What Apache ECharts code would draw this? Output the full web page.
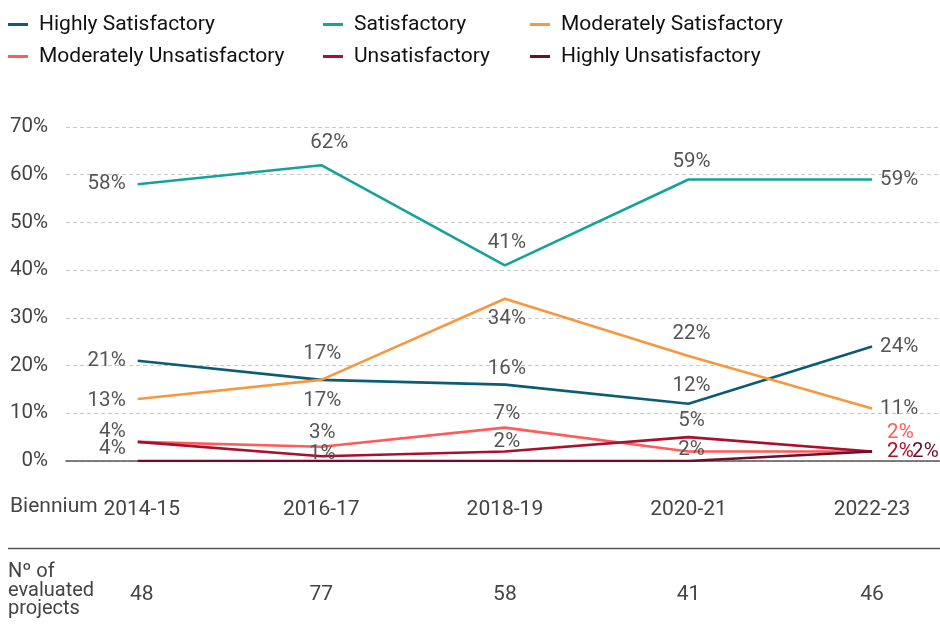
<!DOCTYPE html>
<html>
<head>
<meta charset="utf-8">
<script src="https://cdn.jsdelivr.net/npm/echarts@6/dist/echarts.min.js"></script>
<style>
  html, body { margin: 0; padding: 0; background: #fff; }
  #chart { width: 940px; height: 630px; }
</style>
</head>
<body>
<div id="chart"></div>
<script>
// Project ratings by biennium (share of evaluated projects, %)
const biennia = ['2014-15', '2016-17', '2018-19', '2020-21', '2022-23'];
const projectCounts = [48, 77, 58, 41, 46];

const highlySatisfactory = [21, 17, 16, 12, 24];
const satisfactory = [58, 62, 41, 59, 59];
const moderatelySatisfactory = [13, 17, 34, 22, 11];
const moderatelyUnsatisfactory = [4, 3, 7, 2, 2];
const unsatisfactory = [4, 1, 2, 5, 2];
const highlyUnsatisfactory = [0, 0, 0, 0, 2];

const yTicks = [0, 10, 20, 30, 40, 50, 60, 70];

// Label placement per point: [position, dx, dy]; null hides the label
const placements = {
  hs: [['left', 0, 0], ['in', 1, -26], ['in', 2, -16], ['in', 3, -18], ['right', 0, 0]],
  s: [['left', 0, 0], ['in', 8, -22], ['in', 2, -22], ['in', 3, -18], ['right', 0, 0]],
  ms: [['left', 0, 2], ['in', 1, 21], ['in', 2, 20], ['in', 3, -22], ['right', 0, 0]],
  mu: [['left', 0, -10], ['in', 1, -14], ['in', 2, -14], ['in', 3, -2], ['right', 7, -19]],
  u: [['left', 0, 7], ['in', 1, -2], ['in', 2, -10], ['in', 3, -16], ['right', 7, 0]],
  hu: [null, null, null, null, ['right', 32, 0]]
};

const FONT = 'Roboto, "Noto Sans", sans-serif';
const LABEL_GREY = '#555555';

const seriesDefs = [
  { name: 'Highly Satisfactory', values: highlySatisfactory, color: '#0b5c74', key: 'hs', endColor: LABEL_GREY },
  { name: 'Satisfactory', values: satisfactory, color: '#15a29a', key: 's', endColor: LABEL_GREY },
  { name: 'Moderately Satisfactory', values: moderatelySatisfactory, color: '#f7973f', key: 'ms', endColor: LABEL_GREY },
  { name: 'Moderately Unsatisfactory', values: moderatelyUnsatisfactory, color: '#ff5b5b', key: 'mu', endColor: '#ff5b5b' },
  { name: 'Unsatisfactory', values: unsatisfactory, color: '#a8102e', key: 'u', endColor: '#a8102e' },
  { name: 'Highly Unsatisfactory', values: highlyUnsatisfactory, color: '#6c0f2b', key: 'hu', endColor: '#6c0f2b' }
];

function pointLabel(place, isLast, endColor) {
  if (!place) return { show: false };
  const [pos, dx, dy] = place;
  const lbl = {
    show: true,
    fontFamily: FONT,
    fontSize: 20.5,
    color: isLast ? endColor : LABEL_GREY,
    formatter: (p) => p.value[1] + '%'
  };
  if (pos === 'in') {
    lbl.position = 'inside';
    lbl.offset = [dx, dy];
  } else {
    lbl.position = pos;
    lbl.distance = pos === 'left' ? 12 : 8;
    lbl.offset = [dx, dy];
  }
  return lbl;
}

const series = seriesDefs.map((d) => ({
  name: d.name,
  type: 'line',
  xAxisIndex: 0,
  yAxisIndex: 0,
  symbol: 'circle',
  symbolSize: 0.1,
  showSymbol: true,
  lineStyle: { color: d.color, width: 2.6 },
  itemStyle: { color: d.color },
  emphasis: { disabled: true },
  animation: false,
  data: d.values.map((v, i) => ({
    value: [i, v],
    label: pointLabel(placements[d.key][i], i === d.values.length - 1, d.endColor)
  }))
}));

const legendBase = {
  orient: 'vertical',
  top: 14,
  itemGap: 11,
  itemWidth: 20,
  itemHeight: 3,
  icon: 'rect',
  padding: 0,
  selectedMode: false,
  textStyle: { fontFamily: FONT, fontSize: 21, color: '#111', padding: [0, 0, 0, 6] }
};

const X_MIN = -0.3905;
const X_MAX = 4.37;

// The first column's labels sit a little to the right of their point
const firstColRich = { first: { padding: [0, 0, 0, 8], fontFamily: FONT, fontSize: 21, color: '#444' } };
const axisText = (txt, i) => (i === 0 ? '{first|' + txt + '}' : txt);

const chart = echarts.init(document.getElementById('chart'), null, { renderer: 'canvas' });
chart.setOption({
  animation: false,
  backgroundColor: '#ffffff',
  legend: [
    Object.assign({}, legendBase, { left: 8, data: [seriesDefs[0].name, seriesDefs[3].name] }),
    Object.assign({}, legendBase, { left: 323, data: [seriesDefs[1].name, seriesDefs[4].name] }),
    Object.assign({}, legendBase, { left: 530, data: [seriesDefs[2].name, seriesDefs[5].name] })
  ],
  grid: { left: 66, right: 0, top: 127, bottom: 169, containLabel: false },
  xAxis: [
    {
      type: 'value',
      min: X_MIN,
      max: X_MAX,
      axisLine: { show: true, onZero: false, lineStyle: { color: '#555', width: 1.5 } },
      axisTick: { show: false },
      splitLine: { show: false },
      axisLabel: {
        customValues: biennia.map((_, i) => i),
        margin: 38,
        fontFamily: FONT,
        fontSize: 21,
        color: '#444',
        rich: firstColRich,
        formatter: (v) => {
          const i = Math.round(v);
          return axisText(biennia[i], i);
        }
      }
    },
    {
      type: 'value',
      min: X_MIN,
      max: X_MAX,
      position: 'bottom',
      offset: 86,
      axisLine: { show: false },
      axisTick: { show: false },
      splitLine: { show: false },
      axisLabel: {
        customValues: projectCounts.map((_, i) => i),
        margin: 37,
        fontFamily: FONT,
        fontSize: 21,
        color: '#444',
        rich: firstColRich,
        formatter: (v) => {
          const i = Math.round(v);
          return axisText(String(projectCounts[i]), i);
        }
      }
    }
  ],
  yAxis: {
    type: 'value',
    min: yTicks[0],
    max: yTicks[yTicks.length - 1],
    interval: 10,
    axisLine: { show: false },
    axisTick: { show: false },
    splitLine: { show: true, lineStyle: { color: '#c8c8c8', type: [4, 3], width: 1 } },
    axisLabel: {
      margin: 18,
      fontFamily: FONT,
      fontSize: 20.5,
      color: '#444',
      formatter: (v) => v + '%'
    }
  },
  series: series,
  graphic: [
    {
      type: 'text',
      left: 10,
      top: 496,
      style: { text: 'Biennium', font: '21px ' + FONT, fill: '#444' }
    },
    {
      type: 'line',
      shape: { x1: 8, y1: 548.5, x2: 940, y2: 548.5 },
      style: { stroke: '#555', lineWidth: 1.5 }
    },
    {
      type: 'text',
      left: 8,
      top: 562,
      style: {
        text: 'Nº of\nevaluated\nprojects',
        font: '20px ' + FONT,
        lineHeight: 18.5,
        fill: '#444'
      }
    }
  ]
});
</script>
</body>
</html>
